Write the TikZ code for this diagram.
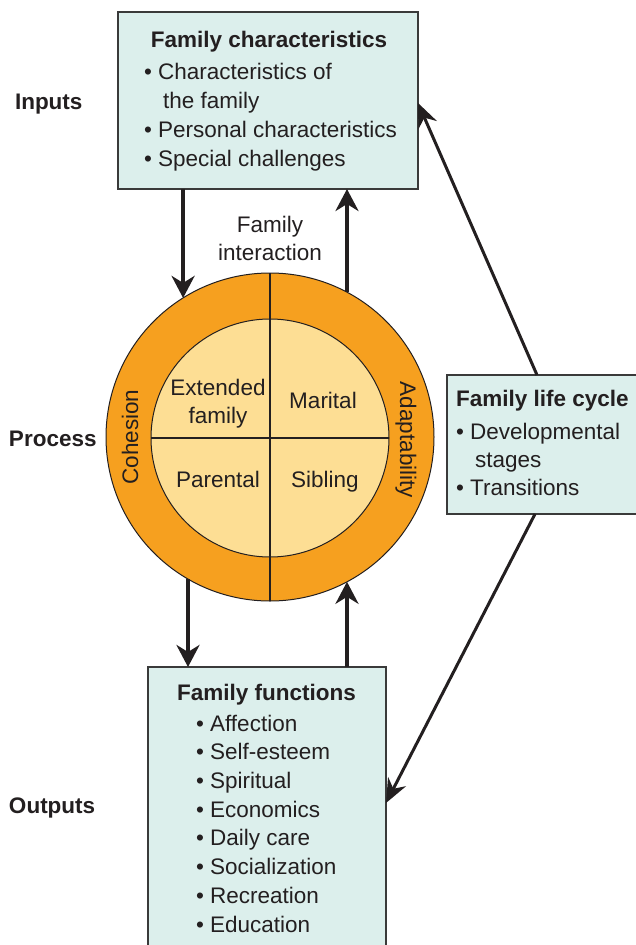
\documentclass[tikz,border=0pt]{standalone}
\usepackage{fontspec}
\setmainfont{Liberation Sans}
\usetikzlibrary{arrows.meta,calc}
\definecolor{ink}{HTML}{231F20}
\definecolor{boxfill}{HTML}{DCEFEC}
\definecolor{boxline}{HTML}{3A3A3A}
\definecolor{ringC}{HTML}{F6A01F}
\definecolor{coreC}{HTML}{FDDE94}
\begin{document}
\begin{tikzpicture}[x=1pt,y=-1pt,
  every node/.style={text=ink, font=\fontsize{22.5}{26}\selectfont, inner sep=0pt, outer sep=0pt},
  txt/.style={anchor=base west},
  ctxt/.style={anchor=base},
  hd/.style={anchor=base, font=\fontsize{22.5}{26}\selectfont\bfseries},
  infobox/.style={draw=boxline, fill=boxfill, line width=1.2pt, rectangle},
  arr/.style={draw=ink, line width=4pt, -{Stealth[length=22pt,width=23pt,inset=7pt]}},
  darr/.style={draw=ink, line width=3pt, -{Stealth[length=24pt,width=20pt,inset=8pt]}}]
\useasboundingbox (0,0) rectangle (636,945);
\clip (0,0) rectangle (636,945);

% boxes
\node[infobox, minimum width=300pt, minimum height=177pt] (topbox) at (268,100.5) {};
\node[infobox, minimum width=238pt, minimum height=300pt] (fnbox) at (267,817) {};
\node[infobox, minimum width=220pt, minimum height=139pt] (lcbox) at (557,444.5) {};

% circle
\node[circle, draw=ink, fill=ringC, line width=1pt, minimum size=328pt] (outer) at (270,437) {};
\node[circle, draw=ink, fill=coreC, line width=1pt, minimum size=238pt] (inner) at (270,438) {};
\draw[ink, line width=1.6pt] (outer.north) -- (outer.south);
\draw[ink, line width=1.6pt] (inner.west) -- (inner.east);

% side labels
\node[hd, anchor=base west] (lin) at (15,109) {Inputs};
\node[hd, anchor=base west] (lpr) at (9,446) {Process};
\node[hd, anchor=base west] (lout) at (9,813) {Outputs};

% top box text
\node[hd] (t0) at (269,47) {Family characteristics};
\node[txt] (t1) at (144,79) {\textbullet\ Characteristics of};
\node[txt] (t2) at (163,108) {the family};
\node[txt] (t3) at (144,137) {\textbullet\ Personal characteristics};
\node[txt] (t4) at (144,166) {\textbullet\ Special challenges};

% interaction label
\node[ctxt] (fi1) at (270,232) {Family};
\node[ctxt] (fi2) at (270,260) {interaction};

% circle text
\node[ctxt] (q1a) at (218,395) {Extended};
\node[ctxt] (q1b) at (218,423) {family};
\node[ctxt] (q2) at (323,408) {Marital};
\node[ctxt] (q3) at (218,487) {Parental};
\node[ctxt] (q4) at (325,487) {Sibling};
\node[anchor=base, rotate=90] (coh) at (138,437) {Cohesion};
\node[anchor=base, rotate=-90] (ada) at (400,440) {Adaptability};

% life cycle box text
\node[hd, anchor=base west] (l0) at (456,406) {Family life cycle};
\node[txt] (l1) at (456,439) {\textbullet\ Developmental};
\node[txt] (l2) at (475,467) {stages};
\node[txt] (l3) at (456,495) {\textbullet\ Transitions};

% functions box text
\node[hd] (f0) at (266.5,700) {Family functions};
\node[txt] (f1) at (196,731) {\textbullet\ Affection};
\node[txt] (f2) at (196,759.7) {\textbullet\ Self-esteem};
\node[txt] (f3) at (196,788.4) {\textbullet\ Spiritual};
\node[txt] (f4) at (196,817.1) {\textbullet\ Economics};
\node[txt] (f5) at (196,845.8) {\textbullet\ Daily care};
\node[txt] (f6) at (196,874.5) {\textbullet\ Socialization};
\node[txt] (f7) at (196,903.2) {\textbullet\ Recreation};
\node[txt] (f8) at (196,932) {\textbullet\ Education};

% vertical arrows
\draw[arr] (topbox.south -| outer.122) -- (outer.122);
\draw[arr] (outer.62) -- (topbox.south -| outer.62);
\draw[arr] (outer.240) -- (fnbox.north -| outer.240);
\draw[arr] (fnbox.north -| outer.298) -- (outer.298);

% diagonal arrows
\draw[darr] ($(lcbox.north west)+(90,0)$) -- ($(topbox.north east)+(0,91)$);
\draw[darr] ($(lcbox.south west)+(88,0)$) -- ($(fnbox.north east)+(0,136)$);
\end{tikzpicture}
\end{document}
